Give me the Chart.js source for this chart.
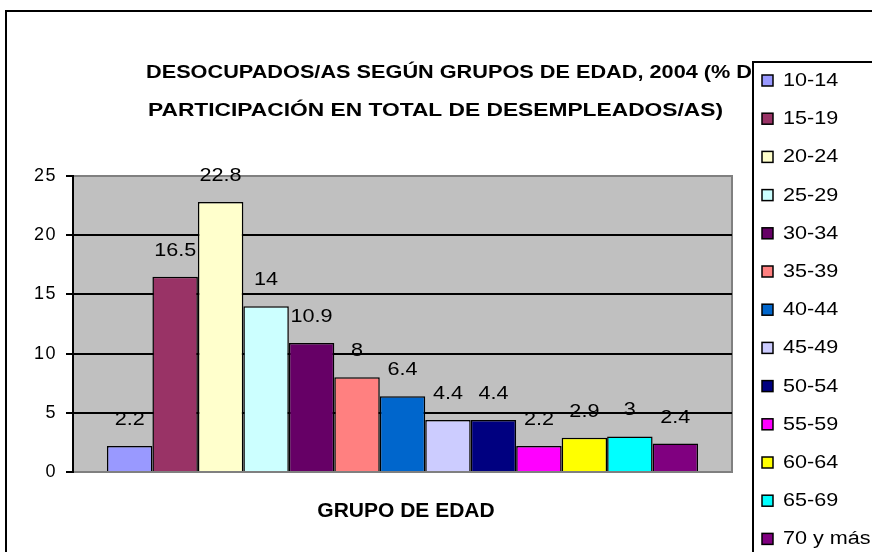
<!DOCTYPE html>
<html>
<head>
<meta charset="utf-8">
<script src="https://cdn.jsdelivr.net/npm/chart.js@4"></script>
<style>
  html, body { margin: 0; padding: 0; background: #fff; }
  #wrap { width: 872px; height: 552px; }
</style>
</head>
<body>
<div id="wrap"><canvas id="barChart" width="872" height="552"></canvas></div>
<script>
const ageGroups = ["10-14", "15-19", "20-24", "25-29", "30-34", "35-39", "40-44",
  "45-49", "50-54", "55-59", "60-64", "65-69", "70 y más"];
const shares = [2.2, 16.5, 22.8, 14, 10.9, 8, 6.4, 4.4, 4.4, 2.2, 2.9, 3, 2.4];
const barColors = ["#9999FF", "#993366", "#FFFFCC", "#CCFFFF", "#660066", "#FF8080", "#0066CC",
  "#CCCCFF", "#000080", "#FF00FF", "#FFFF00", "#00FFFF", "#800080"];
const yTicks = [0, 5, 10, 15, 20, 25];
const titleLines = ["DESOCUPADOS/AS SEGÚN GRUPOS DE EDAD, 2004 (% DE",
  "PARTICIPACIÓN EN TOTAL DE DESEMPLEADOS/AS)"];
const xTitle = "GRUPO DE EDAD";

const FONT = "Arial, 'Liberation Sans', sans-serif";

function wideText(ctx, text, x, y, align, stretch) {
  ctx.save();
  ctx.translate(x, y);
  ctx.scale(stretch, 1);
  ctx.textAlign = align;
  ctx.fillText(text, 0, 0);
  ctx.restore();
}

// gray plot area, frame, titles, value labels and the legend box, Excel style
const excelLook = {
  id: 'excelLook',
  beforeDraw(chart) {
    const { ctx, chartArea: a } = chart;
    ctx.save();
    ctx.fillStyle = '#fff';
    ctx.fillRect(0, 0, chart.width, chart.height);
    ctx.strokeStyle = '#000';
    ctx.lineWidth = 2;
    ctx.strokeRect(6, 11, 1000, 1000);
    ctx.fillStyle = '#C0C0C0';
    ctx.fillRect(a.left, a.top, a.right - a.left, a.bottom - a.top);
    ctx.strokeStyle = '#808080';
    ctx.lineWidth = 2;
    ctx.strokeRect(a.left, a.top, a.right - a.left, a.bottom - a.top);
    ctx.restore();
    ctx.letterSpacing = '1.5px';   // wide tick text
  },
  afterDatasetsDraw(chart) {
    const { ctx } = chart;
    ctx.save();
    ctx.letterSpacing = '0px';
    ctx.font = '18px ' + FONT;
    ctx.fillStyle = '#000';
    ctx.textBaseline = 'middle';
    chart.data.datasets.forEach((ds, i) => {
      const bar = chart.getDatasetMeta(i).data[0];
      wideText(ctx, String(ds.data[0]), bar.x, bar.y - 26, 'center', 1.2);
    });

    ctx.font = 'bold 21px ' + FONT;
    wideText(ctx, xTitle, 406, 511, 'center', 1);

    // title lines, widened to the original's extents
    ctx.font = 'bold 19px ' + FONT;
    const w1 = ctx.measureText(titleLines[0].slice(0, -1)).width;
    const w2 = ctx.measureText(titleLines[1]).width;
    wideText(ctx, titleLines[0], 146, 73, 'left', 606 / w1);
    wideText(ctx, titleLines[1], 148, 111, 'left', 575 / w2);

    // legend
    const lx = 753, ly = 62;
    ctx.fillStyle = '#fff';
    ctx.fillRect(lx, ly, 200, 600);
    ctx.strokeStyle = '#000';
    ctx.lineWidth = 2;
    ctx.strokeRect(lx, ly, 200, 600);
    ctx.font = '18px ' + FONT;
    chart.data.datasets.forEach((ds, i) => {
      const cy = 81 + i * 38.2;
      ctx.fillStyle = ds.backgroundColor;
      ctx.fillRect(762, cy - 6, 11, 11);
      ctx.strokeStyle = '#000';
      ctx.lineWidth = 1.5;
      ctx.strokeRect(762, cy - 6, 11, 11);
      ctx.fillStyle = '#000';
      wideText(ctx, ds.label, 783, cy, 'left', 1.2);
    });
    ctx.restore();
  }
};

new Chart(document.getElementById('barChart').getContext('2d'), {
  type: 'bar',
  data: {
    labels: [""],
    datasets: ageGroups.map((g, i) => ({
      label: g,
      data: [shares[i]],
      backgroundColor: barColors[i],
      borderColor: '#000',
      borderWidth: 1.5,
      borderSkipped: 'bottom'
    }))
  },
  options: {
    responsive: false,
    animation: false,
    layout: { padding: { left: 0, top: 176, right: 140, bottom: 0 } },
    datasets: { bar: { barPercentage: 1, categoryPercentage: 0.897 } },
    plugins: {
      legend: { display: false },
      title: { display: false },
      tooltip: { enabled: false }
    },
    scales: {
      x: {
        grid: { display: false },
        border: { display: false },
        ticks: { display: false },
        afterFit: s => { s.height = 80; }
      },
      y: {
        min: 0,
        max: 25,
        afterBuildTicks: s => { s.ticks = yTicks.map(v => ({ value: v })); },
        afterFit: s => { s.width = 73; },
        border: { color: '#000', width: 2 },
        grid: {
          color: c => (c.tick && (c.tick.value === 0 || c.tick.value === 25)) ? '#808080' : '#000',
          tickColor: '#000',
          lineWidth: 2,
          tickLength: 7
        },
        ticks: {
          color: '#000',
          padding: 9,
          font: { family: FONT, size: 18 }
        }
      }
    }
  },
  plugins: [excelLook]
});
</script>
</body>
</html>
